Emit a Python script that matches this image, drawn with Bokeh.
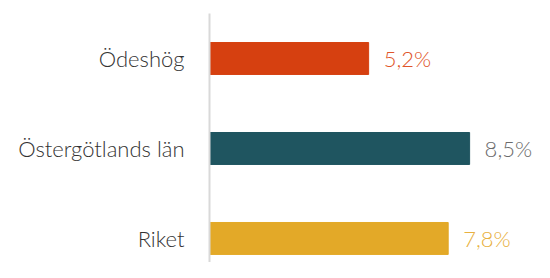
from bokeh.plotting import figure
from bokeh.models import ColumnDataSource, Range1d, FixedTicker
from bokeh.core.properties import value
from bokeh.embed import file_html
from bokeh.resources import INLINE

categories = ["Ödeshög", "Östergötlands län", "Riket"]
values = [5.2, 8.5, 7.8]
labels = ["5,2%", "8,5%", "7,8%"]
bar_colors = ["#D64010", "#1F5560", "#E3A928"]
label_colors = ["#E0552A", "#6B6B6B", "#E8B040"]

pos = list(range(len(categories)))
src = ColumnDataSource(dict(y=pos, v=values, lab=labels, bc=bar_colors, lc=label_colors))

FONT = "Lato Light"

p = figure(width=534, height=262, output_backend="svg", toolbar_location=None,
           x_range=Range1d(0, 10.62), y_range=Range1d(2.267, -0.5),
           min_border_left=209, min_border_top=13, min_border_bottom=0, min_border_right=0)
p.outline_line_color = None
p.xgrid.visible = False
p.ygrid.visible = False
p.xaxis.visible = False

p.hbar(y="y", right="v", left=0, height=0.355, color="bc", source=src)
p.text(x="v", y="y", text="lab", text_color="lc", source=src, x_offset=15,
       text_align="left", text_baseline="middle", text_font=value(FONT),
       text_font_size="22px")

ya = p.yaxis[0]
ya.ticker = FixedTicker(ticks=pos)
ya.major_label_overrides = {i: c for i, c in enumerate(categories)}
ya.major_tick_line_color = None
ya.minor_tick_line_color = None
ya.axis_line_color = "#D9D9D9"
ya.axis_line_width = 2
ya.major_label_standoff = 19
ya.major_label_text_font = FONT
ya.major_label_text_font_size = "22px"
ya.major_label_text_color = "#333333"

open("out.html", "w").write(file_html(p, INLINE))
